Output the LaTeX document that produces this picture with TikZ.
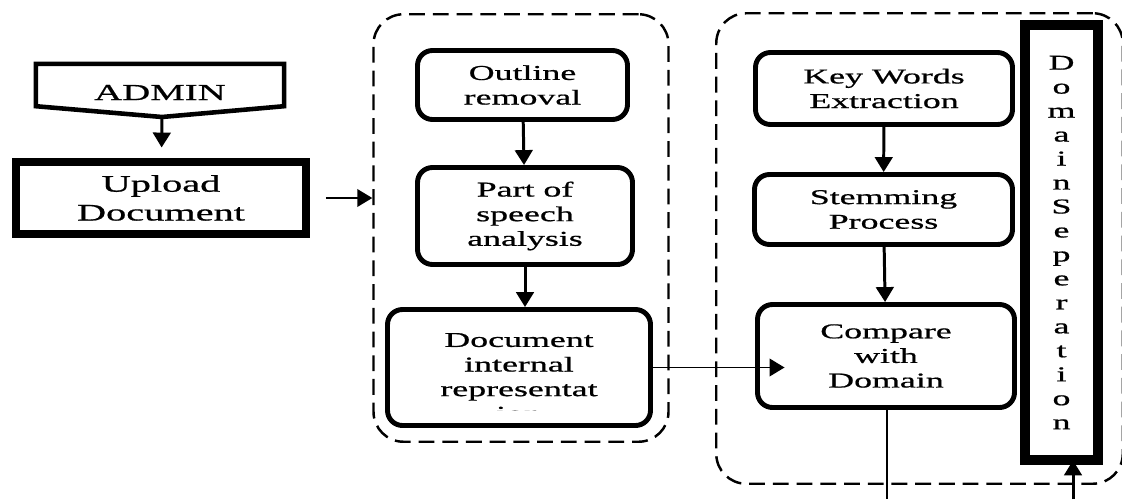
\documentclass[tikz,border=0pt]{standalone}
\usepackage{fontspec}
\setmainfont{Liberation Serif}[FakeStretch=1.7, FakeBold=0.8]
\usetikzlibrary{positioning,arrows.meta}

\begin{document}
\begin{tikzpicture}[
			>={Triangle[width=10pt,length=8.5pt]},
			every node/.style={font=\fontsize{12}{14}\selectfont, align=center},
			procbox/.style={draw, rounded corners=0.3cm, line width=2.8pt},
			groupbox/.style={draw, rounded corners=0.6cm, line width=1.4pt, dash pattern=on 9pt off 4.5pt},
			flow/.style={->, line width=1.7pt},
			link/.style={->, line width=1pt},
		]
		\useasboundingbox (0,0) rectangle (22.44,9.98);

		% Dashed groups
		\node[groupbox, minimum width=5.9cm, minimum height=8.55cm] (grpone) at (10.42,5.42) {};
		\node[groupbox, minimum width=8.13cm, minimum height=9.41cm] (grptwo) at (18.39,5.01) {};

		% Admin and upload
		\node[minimum width=4.95cm, minimum height=0.75cm, text height=0.6cm, text depth=0pt, font=\fontsize{13}{16}\selectfont] (admin) at (3.2,8.28) {ADMIN};
		\coordinate (admintip) at (3.24,7.64);
		\draw[line width=2.6pt] (admin.north west) -- (admin.north east) -- (admin.south east) -- (admintip) -- (admin.south west) -- cycle;
		\node[draw, line width=4.5pt, minimum width=5.8cm, minimum height=1.44cm, font=\fontsize{13.5}{16.4}\selectfont] (upload) at (3.22,6.02) {Upload\\Document};

		% Group 1 nodes
		\node[procbox, minimum width=4.2cm, minimum height=1.38cm] (outline) at (10.45,8.28) {Outline\\removal};
		\node[procbox, minimum width=4.3cm, minimum height=1.94cm] (speech) at (10.5,5.66) {Part of\\speech\\analysis};
		\node[procbox, minimum width=5.26cm, minimum height=2.32cm] (docrep) at (10.38,2.63) {};
		\begin{scope}
			\clip (docrep.north west) rectangle (docrep.east |- 0,1.78);
			\node (doctext) at (10.38,2.44) {Document\\internal\\representat\\ion};
		\end{scope}

		% Group 2 nodes
		\node[procbox, minimum width=5.14cm, minimum height=1.44cm] (keywords) at (17.68,8.21) {Key Words\\Extraction};
		\node[procbox, minimum width=5.16cm, minimum height=1.4cm] (stemming) at (17.67,5.79) {Stemming\\Process};
		\node[procbox, minimum width=5.14cm, minimum height=2.06cm] (compare) at (17.72,2.86) {Compare\\with\\Domain};
		\node[draw, line width=5.5pt, minimum width=1.45cm, minimum height=8.7cm, font=\fontsize{12}{13.64}\selectfont] (domsep) at (21.23,5.13) {D\\o\\m\\a\\i\\n\\S\\e\\p\\e\\r\\a\\t\\i\\o\\n};

		% Free ends at the bottom
		\coordinate (cmpout) at (17.74,0);
		\coordinate (domin) at (21.46,0);

		% Connections
		\draw[flow, shorten >=6pt] (admintip) -- (upload);
		\draw[link, shorten <=0.32cm] (upload.east) -- (upload.east -| grpone.west);
		\draw[flow] (outline) -- (speech);
		\draw[flow] (speech.south) -- (speech.south |- docrep.north);
		\draw[flow] (keywords) -- (stemming);
		\draw[flow] (stemming) -- (compare);
		\draw[link] (docrep.east) -- ([xshift=0.59cm]docrep.east -| compare.west);
		\draw[line width=1pt] (compare.south -| cmpout) -- (cmpout);
		\draw[flow, shorten >=-2.5pt] (domin) -- (domin |- domsep.south);
	\end{tikzpicture}
\end{document}
